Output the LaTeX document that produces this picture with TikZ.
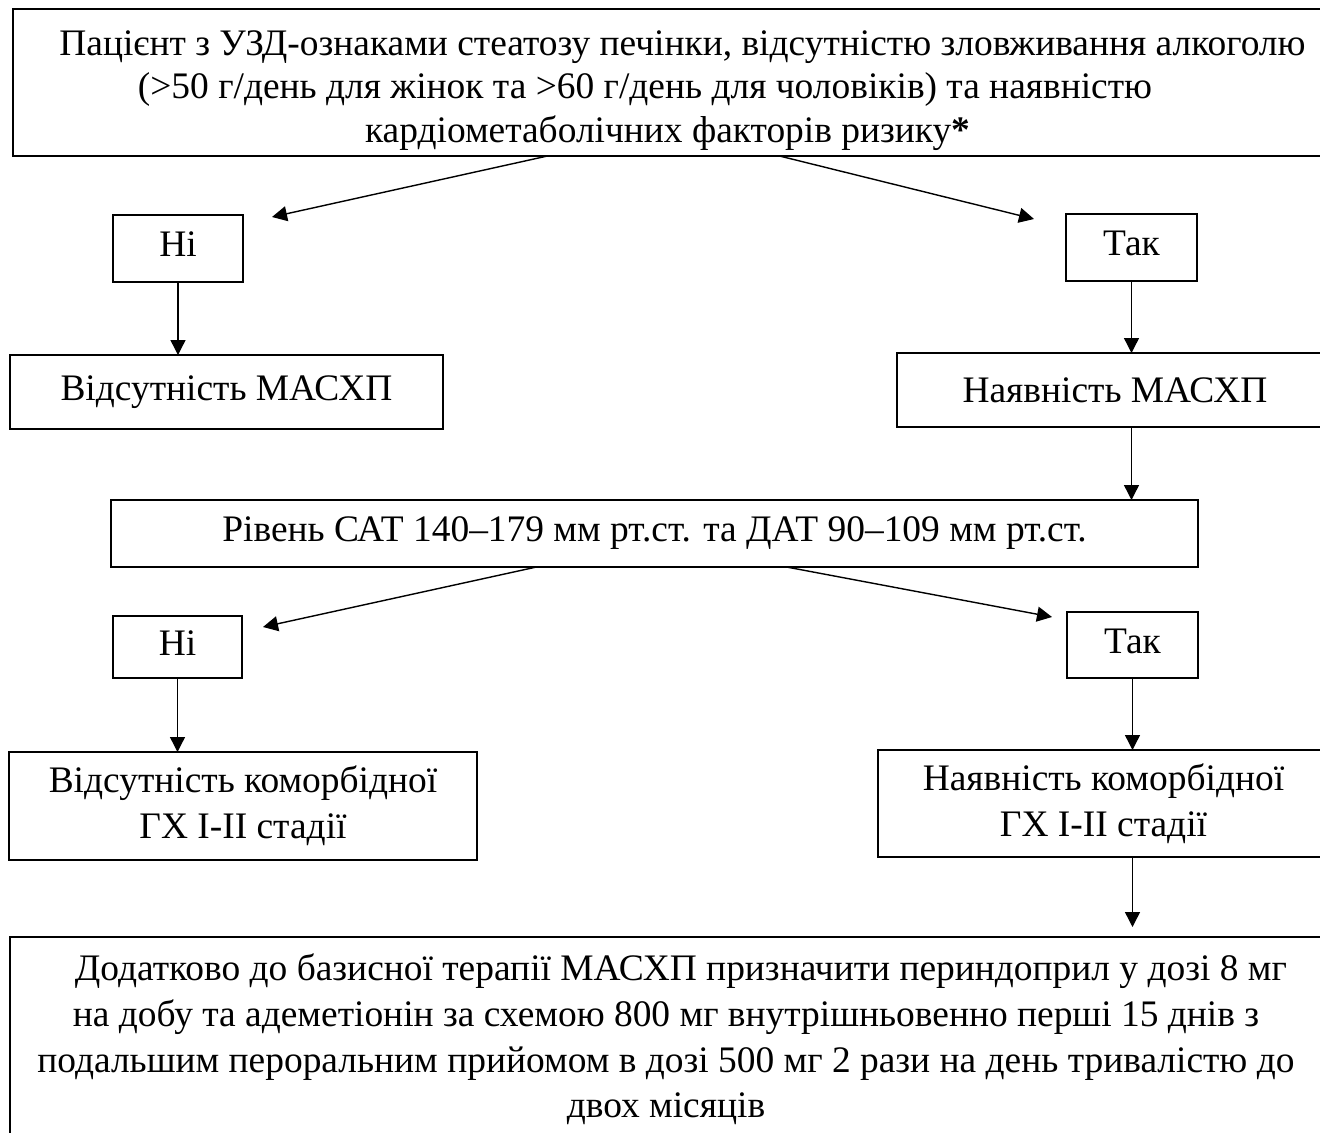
\documentclass[tikz,border=0pt]{standalone}
\usepackage{fontspec}
\setmainfont{Liberation Serif}
\usetikzlibrary{positioning, arrows.meta}
\tikzset{
	box/.style={draw, line width=1.4pt, align=center, inner sep=0pt, outer sep=0pt, font=\fontsize{21.3}{25.3}\selectfont}, % frame round every text of the scheme
	answer/.style={box, text depth=0.16cm}, % small yes / no frames
	flow/.style={-{Triangle[length=3mm, width=3mm]}, line width=0.8pt}, % arrows from one step to the next
}

\begin{document}
\begin{tikzpicture}
	\useasboundingbox (0,0) rectangle (26.4,-22.66);
	\node[box, font=\fontsize{21.3}{25}\selectfont, minimum width=26.18cm, minimum height=2.94cm] (patient) at (13.35,-1.65) {\rule{0pt}{0.82cm}\hspace*{0.6cm}Пацієнт з УЗД-ознаками стеатозу печінки, відсутністю зловживання алкоголю\\(>50 г/день для жінок та >60 г/день для чоловіків) та наявністю\hspace*{0.9cm}\mbox{}\\кардіометаболічних факторів ризику\textbf{*}};
	\node[answer, minimum width=2.6cm, minimum height=1.34cm, below=1.18cm of patient.south, xshift=-9.79cm] (no1) {Ні};
	\node[answer, minimum width=2.62cm, minimum height=1.34cm, below=1.16cm of patient.south, xshift=9.28cm] (yes1) {Так};
	\node[box, minimum width=8.66cm, minimum height=1.48cm, below=1.46cm of no1, xshift=0.97cm] (absent1) {Відсутність МАСХП};
	\node[box, minimum width=8.72cm, minimum height=1.48cm, below=1.44cm of yes1, xshift=-0.33cm] (present1) {Наявність МАСХП};
	\node[box, minimum width=21.74cm, minimum height=1.34cm, below=1.46cm of present1, xshift=-9.21cm] (bp) {Рівень САТ 140–179 мм рт.ст. та ДАТ 90–109 мм рт.ст.};
	\node[answer, minimum width=2.58cm, minimum height=1.24cm, below=0.98cm of bp, xshift=-9.54cm] (no2) {Ні};
	\node[answer, minimum width=2.62cm, minimum height=1.32cm, below=0.9cm of bp, xshift=9.56cm] (yes2) {Так};
	\node[box, font=\fontsize{21.3}{26.2}\selectfont, minimum width=9.36cm, minimum height=2.16cm, below=1.48cm of no2, xshift=1.31cm] (absent2) {Відсутність коморбідної\\ГХ I-II стадії};
	\node[box, font=\fontsize{21.3}{26.2}\selectfont, minimum width=9.02cm, minimum height=2.14cm, below=1.44cm of yes2, xshift=-0.58cm] (present2) {Наявність коморбідної\\ГХ I-II стадії};
	\node[box, font=\fontsize{21.3}{26}\selectfont, minimum width=26.24cm, minimum height=4.96cm, below=1.6cm of present2, xshift=-8.75cm] (therapy) {\hspace*{0.6cm}Додатково до базисної терапії МАСХП призначити периндоприл у дозі 8 мг\\на добу та адеметіонін за схемою 800 мг внутрішньовенно перші 15 днів з\\подальшим пероральним прийомом в дозі 500 мг 2 рази на день тривалістю до\\двох місяців\rule[-1cm]{0pt}{0pt}};
	% free ends of the slanted arrows
	\coordinate[below right=0.04cm and 0.58cm of no1.north east] (noTip1);
	\coordinate[below left=0.1cm and 0.64cm of yes1.north west] (yesTip1);
	\coordinate[below right=0.22cm and 0.42cm of no2.north east] (noTip2);
	\coordinate[below left=0.1cm and 0.3cm of yes2.north west] (yesTip2);
	\draw[flow] ([xshift=-2.4cm]patient.south) -- (noTip1);
	\draw[flow] ([xshift=2.24cm]patient.south) -- (yesTip1);
	\draw[flow] (no1.south) -- (no1.south |- absent1.north);
	\draw[flow] (yes1.south) -- (yes1.south |- present1.north);
	\draw[flow] (present1.south -| yes1) -- (bp.north -| yes1);
	\draw[flow] ([xshift=-2.36cm]bp.south) -- (noTip2);
	\draw[flow] ([xshift=2.64cm]bp.south) -- (yesTip2);
	\draw[flow] (no2.south) -- (no2.south |- absent2.north);
	\draw[flow] (yes2.south) -- (yes2.south |- present2.north);
	\draw[flow, shorten >=0.2cm] (present2.south -| yes2) -- (therapy.north -| yes2);
\end{tikzpicture}
\end{document}
